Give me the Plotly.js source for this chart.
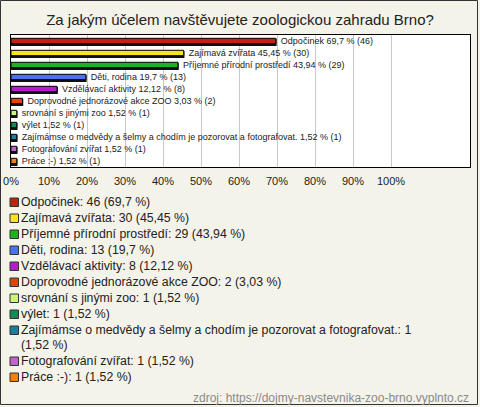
<!DOCTYPE html>
<html>
<head>
<meta charset="utf-8">
<script src="https://cdn.plot.ly/plotly-3.0.1.min.js"></script>
<style>
html,body{margin:0;padding:0;background:#f4f3ea;}
#chart{width:480px;height:407px;}
</style>
</head>
<body>
<div id="chart"></div>
<script>
const categories = [
  "Odpočinek",
  "Zajímavá zvířata",
  "Příjemné přírodní prostředí",
  "Děti, rodina",
  "Vzdělávací aktivity",
  "Doprovodné jednorázové akce ZOO",
  "srovnání s jinými zoo",
  "výlet",
  "Zajímámse o medvědy a šelmy a chodím je pozorovat a fotografovat.",
  "Fotografování zvířat",
  "Práce :-)"
];
const percents = [69.7, 45.45, 43.94, 19.7, 12.12, 3.03, 1.52, 1.52, 1.52, 1.52, 1.52];
const counts = [46, 30, 29, 13, 8, 2, 1, 1, 1, 1, 1];
const colors = ["#c2210e", "#f6e51e", "#22b022", "#4d70ec", "#b21ec8", "#e2420c",
                "#c8f57a", "#128a58", "#1b7f9c", "#c262cc", "#f0820c"];
const tickVals = [0, 10, 20, 30, 40, 50, 60, 70, 80, 90, 100];
const tickLabels = ["0%", "10%", "20%", "30%", "40%", "50%", "60%", "70%", "80%", "90%", "100%"];
const titleText = "Za jakým účelem navštěvujete zoologickou zahradu Brno?";
const sourceText = "zdroj: https://dojmy-navstevnika-zoo-brno.vyplnto.cz";

const FONT = "Liberation Sans, Arial, sans-serif";
const W = 480, H = 407;
const L = 11, R = 470, T = 35, B = 167;
const XMAX = (R - L) / 3.8;
const fmt = v => String(v).replace('.', ',');

const barText = categories.map((c, i) => "\u00a0\u00a0" + c + " " + fmt(percents[i]) + " % (" + counts[i] + ")");

// dark "depth" layer behind each bar (3D look)
const shadow = {
  type: 'bar',
  orientation: 'h',
  x: percents,
  y: categories,
  width: 0.45,
  offset: -0.225 + 0.13,
  marker: {color: '#111', line: {color: '#111', width: 1.5}},
  hoverinfo: 'none'
};

const trace = {
  type: 'bar',
  orientation: 'h',
  x: percents,
  y: categories,
  width: 0.45,
  offset: -0.225,
  marker: {color: colors, line: {color: '#000', width: 1}},
  text: barText,
  textposition: 'outside',
  constraintext: 'none',
  cliponaxis: false,
  textfont: {family: FONT, size: 9, color: '#222'},
  hoverinfo: 'none'
};

const px2x = p => (p - L) / (R - L);
const py2y = p => (B - p) / (B - T);
const annotations = [];
const shapes = [];
let yRow = 202;
categories.forEach((c, i) => {
  const full = c + ": " + counts[i] + " (" + fmt(percents[i]) + " %)";
  let lines = [full];
  if (full.length > 70) lines = [c + ": " + counts[i], "(" + fmt(percents[i]) + " %)"];
  shapes.push({type: 'rect', xref: 'paper', yref: 'paper',
    x0: px2x(10), x1: px2x(18.5), y0: py2y(yRow + 4.5), y1: py2y(yRow - 4),
    fillcolor: colors[i], line: {color: '#333', width: 1}});
  lines.forEach((ln, k) => {
    annotations.push({xref: 'paper', yref: 'paper', x: px2x(18.5), y: py2y(yRow + k * 15),
      xanchor: 'left', yanchor: 'middle', showarrow: false, text: ln,
      font: {family: FONT, size: 12.3, color: '#222'}});
  });
  yRow += 16 + (lines.length - 1) * 15;
});
annotations.push({xref: 'paper', yref: 'paper', x: px2x(471), y: py2y(398),
  xanchor: 'right', yanchor: 'middle', showarrow: false, text: sourceText,
  font: {family: FONT, size: 12, color: '#8a8a8a'}});
shapes.push({type: 'rect', xref: 'paper', yref: 'paper', layer: 'below',
  x0: px2x(0.5), x1: px2x(477.5), y0: py2y(404.5), y1: py2y(0.5),
  line: {color: '#333', width: 1}});

const layout = {
  width: W, height: H,
  margin: {l: L, r: W - R, t: T, b: H - B, pad: 0, autoexpand: false},
  paper_bgcolor: '#f4f3ea',
  plot_bgcolor: '#ffffff',
  showlegend: false,
  barmode: 'overlay',
  title: {text: titleText, font: {family: FONT, size: 15, color: '#222'},
    x: 0.5, xref: 'container', xanchor: 'center', y: 1 - 20 / H, yref: 'container', yanchor: 'middle'},
  xaxis: {range: [0, XMAX], autorange: false, tickvals: tickVals, ticktext: tickLabels,
    showgrid: true, gridcolor: '#c8c8c8', gridwidth: 1, zeroline: false,
    showline: true, linecolor: '#000', linewidth: 1, mirror: true,
    ticks: 'outside', ticklen: 4, tickcolor: 'rgba(0,0,0,0)', automargin: false,
    tickfont: {family: FONT, size: 11, color: '#222'}, fixedrange: true},
  yaxis: {autorange: 'reversed', showticklabels: false, showgrid: false, zeroline: false,
    showline: true, linecolor: '#000', linewidth: 1, mirror: true, ticks: '', fixedrange: true},
  annotations: annotations,
  shapes: shapes,
  font: {family: FONT}
};

Plotly.newPlot('chart', [shadow, trace], layout, {displayModeBar: false, staticPlot: true});
</script>
</body>
</html>
